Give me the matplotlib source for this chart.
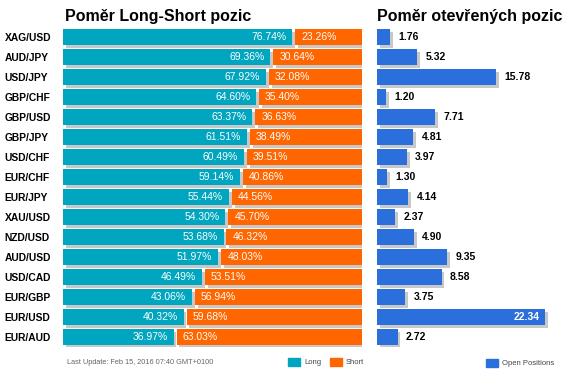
import matplotlib.pyplot as plt
import matplotlib.patheffects as pe
from matplotlib.patches import Patch

plt.rcParams['font.family'] = ['Liberation Sans', 'DejaVu Sans']

# data
pairs = ['XAG/USD', 'AUD/JPY', 'USD/JPY', 'GBP/CHF', 'GBP/USD', 'GBP/JPY', 'USD/CHF', 'EUR/CHF',
         'EUR/JPY', 'XAU/USD', 'NZD/USD', 'AUD/USD', 'USD/CAD', 'EUR/GBP', 'EUR/USD', 'EUR/AUD']
long_pct = [76.74, 69.36, 67.92, 64.60, 63.37, 61.51, 60.49, 59.14,
            55.44, 54.30, 53.68, 51.97, 46.49, 43.06, 40.32, 36.97]
short_pct = [23.26, 30.64, 32.08, 35.40, 36.63, 38.49, 39.51, 40.86,
             44.56, 45.70, 46.32, 48.03, 53.51, 56.94, 59.68, 63.03]
open_pos = [1.76, 5.32, 15.78, 1.20, 7.71, 4.81, 3.97, 1.30,
            4.14, 2.37, 4.90, 9.35, 8.58, 3.75, 22.34, 2.72]

teal = '#00a6bf'
orange = '#ff6600'
blue = '#2a6fdb'
shadow = [pe.SimplePatchShadow(offset=(2.0, -2.4), shadow_rgbFace='#c8c8c8', alpha=1), pe.Normal()]

W, H = 567, 378
fig = plt.figure(figsize=(W / 100, H / 100), dpi=100)

y = list(range(len(pairs)))

# left chart: long / short ratio
ax1 = fig.add_axes([63 / W, (H - 347) / H, 299 / W, 320 / H])
gap = 1.0
b1 = ax1.barh(y, long_pct, height=0.8, color=teal)
b2 = ax1.barh(y, [s - gap for s in short_pct], left=[l + gap for l in long_pct], height=0.8, color=orange)
for b in list(b1) + list(b2):
    b.set_path_effects(shadow)
for i in y:
    ax1.text(long_pct[i] - 2, i, f'{long_pct[i]:.2f}%', color='white', ha='right', va='center', fontsize=7.5)
    ax1.text(long_pct[i] + gap + 2, i, f'{short_pct[i]:.2f}%', color='white', ha='left', va='center', fontsize=7.5)
ax1.set_xlim(0, 100)
ax1.set_ylim(15.5, -0.5)
ax1.set_yticks(y)
ax1.set_yticklabels(pairs, fontsize=7.4, fontweight='bold')
for lab in ax1.get_yticklabels():
    lab.set_horizontalalignment('left')
ax1.tick_params(axis='y', length=0, pad=42)
ax1.set_xticks([])
for s in ax1.spines.values():
    s.set_visible(False)

# right chart: open positions
ax2 = fig.add_axes([377 / W, (H - 347) / H, 188.5 / W, 320 / H])
b3 = ax2.barh(y, open_pos, height=0.8, color=blue)
for b in b3:
    b.set_path_effects(shadow)
for i in y:
    if open_pos[i] > 20:
        ax2.text(open_pos[i] - 0.8, i, f'{open_pos[i]:.2f}', color='white', ha='right', va='center',
                 fontsize=7.5, fontweight='bold')
    else:
        ax2.text(open_pos[i] + 1.1, i, f'{open_pos[i]:.2f}', color='black', ha='left', va='center',
                 fontsize=7.5, fontweight='bold')
ax2.set_xlim(0, 25)
ax2.set_ylim(15.5, -0.5)
ax2.axis('off')

# titles
fig.text(65 / W, 1 - 17 / H, 'Poměr Long-Short pozic', fontsize=11.5, fontweight='bold', va='center')
fig.text(377 / W, 1 - 17 / H, 'Poměr otevřených pozic', fontsize=11.5, fontweight='bold', va='center')

# footer
fig.text(67 / W, 1 - 362 / H, 'Last Update: Feb 15, 2016 07:40 GMT+0100', fontsize=5.3, color='#666666', va='center')
fig.legend(handles=[Patch(color=teal, label='Long'), Patch(color=orange, label='Short')],
           loc='center left', bbox_to_anchor=(288 / W, 1 - 362 / H), ncol=2, frameon=False,
           fontsize=5.5, handlelength=1.6, handleheight=1.3, handletextpad=0.5, columnspacing=1.1,
           labelcolor='#444444', borderpad=0, borderaxespad=0)
fig.legend(handles=[Patch(color=blue, label='Open Positions')],
           loc='center left', bbox_to_anchor=(486 / W, 1 - 363 / H), frameon=False,
           fontsize=5.5, handlelength=1.6, handleheight=1.3, handletextpad=0.5,
           labelcolor='#444444', borderpad=0, borderaxespad=0)

fig.savefig('out.png', dpi=100, facecolor='white')
